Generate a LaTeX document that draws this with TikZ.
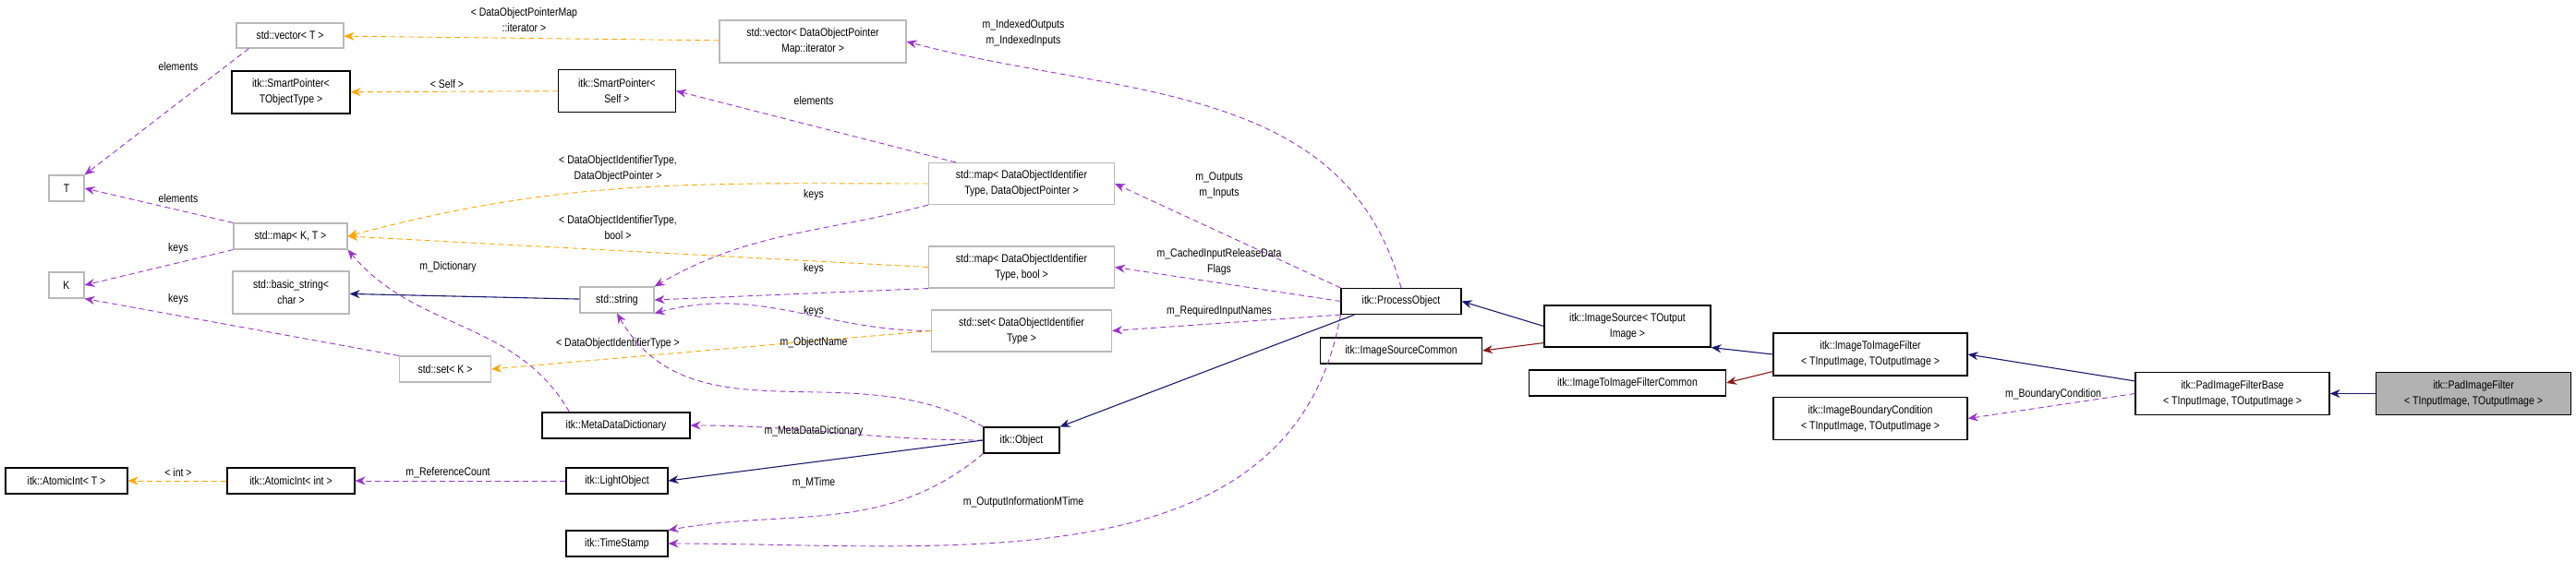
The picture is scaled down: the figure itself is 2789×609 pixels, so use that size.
\documentclass[tikz,border=0pt]{standalone}
\usepackage{fontspec}
\setmainfont[FakeStretch=0.84]{Liberation Sans}
\usetikzlibrary{arrows.meta}
\definecolor{pur}{HTML}{9A32CD}
\definecolor{org}{HTML}{FFA500}
\definecolor{nav}{HTML}{191970}
\definecolor{drd}{HTML}{8B1A1A}
\tikzset{
 box/.style={draw=black,line width=1.1pt,fill=white,align=center,inner sep=2pt,font=\fontsize{12.5}{17}\selectfont},
 gbox/.style={box,draw=gray!55},
 lbl/.style={font=\fontsize{12.5}{17}\selectfont,align=center},
 memb/.style={draw=pur,dashed,line width=0.9pt,dash pattern=on 6pt off 4pt,-{Stealth[length=11pt,width=9pt]}},
 tmpl/.style={draw=org,dashed,line width=0.9pt,dash pattern=on 6pt off 4pt,-{Stealth[length=11pt,width=9pt]}},
 inh/.style={draw=nav,line width=1.1pt,-{Stealth[length=11pt,width=9pt]}},
 pinh/.style={draw=drd,line width=1.1pt,-{Stealth[length=11pt,width=9pt]}},
}
\begin{document}
\begin{tikzpicture}[x=1pt,y=-1pt]
\useasboundingbox (0,0) rectangle (2789,609);
% nodes
\node[gbox,minimum width=116pt,minimum height=27pt] (vecT) at (314,38.5) {std::vector< T >};
\node[box,minimum width=128pt,minimum height=46pt] (spT) at (315,100) {itk::SmartPointer<\\TObjectType >};
\node[box,minimum width=127pt,minimum height=46pt] (spS) at (668,98.5) {itk::SmartPointer<\\Self >};
\node[gbox,minimum width=202pt,minimum height=46pt] (vecD) at (880,45) {std::vector< DataObjectPointer\\Map::iterator >};
\node[gbox,minimum width=38pt,minimum height=28pt] (T) at (72,204) {T};
\node[gbox,minimum width=123pt,minimum height=28pt] (mapKT) at (314.5,256) {std::map< K, T >};
\node[gbox,minimum width=38pt,minimum height=28pt] (K) at (72,309) {K};
\node[gbox,minimum width=126pt,minimum height=46pt] (bstr) at (315,317) {std::basic\_string<\\char >};
\node[gbox,minimum width=80pt,minimum height=28pt] (str) at (668,325) {std::string};
\node[gbox,minimum width=99pt,minimum height=28pt] (setK) at (482,400) {std::set< K >};
\node[box,minimum width=160pt,minimum height=28pt] (mdd) at (667,461) {itk::MetaDataDictionary};
\node[box,minimum width=132pt,minimum height=28pt] (aiT) at (72,521) {itk::AtomicInt< T >};
\node[box,minimum width=138pt,minimum height=28pt] (aiI) at (315,521) {itk::AtomicInt< int >};
\node[box,minimum width=110pt,minimum height=28pt] (lo) at (668,521) {itk::LightObject};
\node[box,minimum width=110pt,minimum height=28pt] (ts) at (668,589) {itk::TimeStamp};
\node[gbox,minimum width=201pt,minimum height=45pt] (mapP) at (1106,199) {std::map< DataObjectIdentifier\\Type, DataObjectPointer >};
\node[gbox,minimum width=201pt,minimum height=45pt] (mapB) at (1106,289.5) {std::map< DataObjectIdentifier\\Type, bool >};
\node[gbox,minimum width=195pt,minimum height=45pt] (setD) at (1106,358.5) {std::set< DataObjectIdentifier\\Type >};
\node[box,minimum width=82pt,minimum height=28pt] (obj) at (1106,477) {itk::Object};
\node[box,minimum width=130pt,minimum height=28pt] (po) at (1517,326.5) {itk::ProcessObject};
\node[box,minimum width=180pt,minimum height=45pt] (is) at (1762,353.5) {itk::ImageSource< TOutput\\Image >};
\node[box,minimum width=175pt,minimum height=28pt] (isc) at (1517,380) {itk::ImageSourceCommon};
\node[box,minimum width=213pt,minimum height=28pt] (iifc) at (1762,415) {itk::ImageToImageFilterCommon};
\node[box,minimum width=210pt,minimum height=46pt] (iif) at (2025,384) {itk::ImageToImageFilter\\< TInputImage, TOutputImage >};
\node[box,minimum width=210pt,minimum height=46pt] (ibc) at (2025,453.5) {itk::ImageBoundaryCondition\\< TInputImage, TOutputImage >};
\node[box,minimum width=210pt,minimum height=46pt] (pfb) at (2417,426.5) {itk::PadImageFilterBase\\< TInputImage, TOutputImage >};
\node[box,fill=gray!60,minimum width=211pt,minimum height=46pt] (pf) at (2678,426.5) {itk::PadImageFilter\\< TInputImage, TOutputImage >};
% edges
\draw[tmpl] (vecD) -- (vecT) node[lbl,pos=0.52,above=3pt] {< DataObjectPointerMap\\::iterator >};
\draw[memb] (vecT.south west) ++(14,0) coordinate (a1) (a1) -- (T.north east);
\node[lbl] (l1) at (193,72) {elements};
\draw[tmpl] (spS) -- (spT);
\node[lbl] (l2) at (484,91) {< Self >};
\draw[memb] (mapP.north west) ++(30,0) coordinate (a2) (a2) -- (spS.east);
\node[lbl] (l3) at (881,109) {elements};
\draw[tmpl] (mapP.west) to[out=180,in=15] (mapKT.east);
\node[lbl] (l4) at (669,183) {< DataObjectIdentifierType,\\DataObjectPointer >};
\draw[memb] (mapKT.north west) -- (T.east);
\node[lbl] (l5) at (193,215) {elements};
\draw[memb] (mapKT.south west) -- (K.east);
\node[lbl] (l6) at (193,269) {keys};
\draw[tmpl] (mapB.west) -- (mapKT.east);
\node[lbl] (l7) at (669,247) {< DataObjectIdentifierType,\\bool >};
\draw[memb] (mapP.south west) to[out=195,in=30] (str.north east);
\node[lbl] (l8) at (881,211) {keys};
\draw[memb] (mapB.south west) -- (str.east);
\node[lbl] (l9) at (881,291) {keys};
\draw[memb] (setD.west) to[out=180,in=15] (str.south east);
\node[lbl] (l10) at (881,337) {keys};
\draw[inh] (str) -- (bstr);
\draw[memb] (setK.north west) -- (K.south east);
\node[lbl] (l11) at (193,324) {keys};
\draw[tmpl] (setD.west) -- (setK.east);
\node[lbl] (l12) at (669,372) {< DataObjectIdentifierType >};
\draw[memb] (obj.north west) to[out=150,in=-60] (str.south);
\node[lbl] (l13) at (881,371) {m\_ObjectName};
\draw[memb] (mdd.north west) ++(30,0) coordinate (a3) (a3) to[out=120,in=-50] (mapKT.south east);
\node[lbl] (l14) at (485,289) {m\_Dictionary};
\draw[memb] (obj.west) to[out=180,in=0] (mdd.east);
\node[lbl] (l15) at (881,467) {m\_MetaDataDictionary};
\draw[inh] (obj.west) -- (lo.east);
\draw[tmpl] (aiI) -- (aiT);
\node[lbl] (l16) at (193,512) {< int >};
\draw[memb] (lo) -- (aiI);
\node[lbl] (l17) at (485,512) {m\_ReferenceCount};
\draw[memb] (obj.south west) to[out=-140,in=10] (ts.north east);
\node[lbl] (l18) at (881,523) {m\_MTime};
\draw[memb] (po.south west) to[out=-100,in=0] (ts.east);
\node[lbl] (l19) at (1108,544) {m\_OutputInformationMTime};
\draw[memb] (po.north) to[out=105,in=-15] (vecD.east);
\node[lbl] (l20) at (1108,36) {m\_IndexedOutputs\\m\_IndexedInputs};
\draw[memb] (po.north west) -- (mapP.east);
\node[lbl] (l21) at (1320,201) {m\_Outputs\\m\_Inputs};
\draw[memb] (po.west) -- (mapB.east);
\node[lbl] (l22) at (1320,284) {m\_CachedInputReleaseData\\Flags};
\draw[memb] (po.south west) -- (setD.east);
\node[lbl] (l23) at (1320,337) {m\_RequiredInputNames};
\draw[inh] (po.south west) ++(15,0) coordinate (a4) (a4) -- (obj.north east);
\draw[inh] (is.west) -- (po.east);
\draw[pinh] (is.south west) ++(0,-5) coordinate (a5) (a5) -- (isc.east);
\draw[inh] (iif.west) -- (is.south east);
\draw[pinh] (iif.south west) ++(0,-5) coordinate (a6) (a6) -- (iifc.east);
\draw[inh] (pfb.north west) ++(0,10) coordinate (a7) (a7) -- (iif.east);
\draw[memb] (pfb.west) -- (ibc.east);
\node[lbl] (l24) at (2223,427) {m\_BoundaryCondition};
\draw[inh] (pf) -- (pfb);
\end{tikzpicture}
\end{document}
